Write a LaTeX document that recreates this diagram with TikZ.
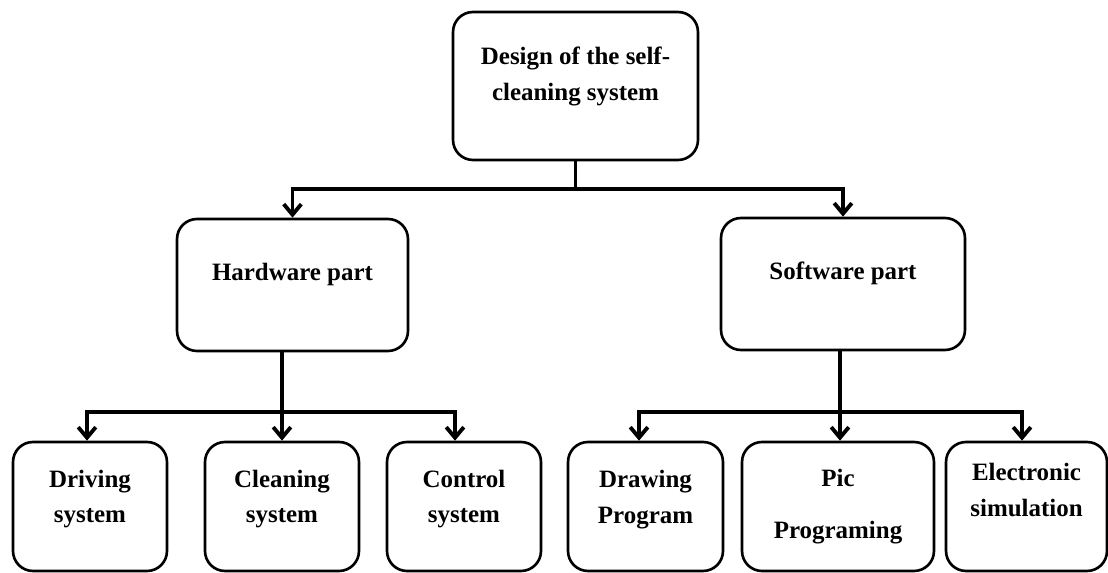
\documentclass[tikz,border=0pt]{standalone}
\usepackage{fontspec}
\setmainfont{Liberation Serif}
\usetikzlibrary{arrows.meta}

\begin{document}
\begin{tikzpicture}[x=0.02cm, y=-0.02cm,
        box/.style={draw, line width=1.5pt, rounded corners=0.4cm, align=center, inner sep=0pt,
            font=\fontsize{14.2}{20}\selectfont\bfseries},
        link/.style={line width=2.2pt, -{Straight Barb[length=6pt,width=10pt]}},
        bar/.style={line width=2.2pt}]
        \useasboundingbox (0,0) rectangle (1108,573);
        % top level
        \node[box, minimum width=4.9cm, minimum height=2.96cm, text depth=14pt] (design) at (575.5,86) {Design of the self-\\cleaning system};
        % second level
        \node[box, minimum width=4.62cm, minimum height=2.64cm, text depth=14.5pt] (hw) at (292.5,285) {Hardware part};
        \node[box, minimum width=4.88cm, minimum height=2.64cm, text depth=15.5pt] (sw) at (843,284) {Software part};
        % third level
        \node[box, minimum width=3.08cm, minimum height=2.58cm, text depth=12pt] (drv) at (90,506.5)   {Driving\\system};
        \node[box, minimum width=3.08cm, minimum height=2.58cm, text depth=12pt] (cln) at (282,506.5)  {Cleaning\\system};
        \node[box, minimum width=3.08cm, minimum height=2.58cm, text depth=12pt] (ctl) at (464,506.5)  {Control\\system};
        \node[box, minimum width=3.1cm,  minimum height=2.58cm, text depth=11pt] (drw) at (645.5,506.5) {Drawing\\Program};
        \node[box, minimum width=3.84cm, minimum height=2.58cm, text depth=3pt]  (pic) at (838,506.5)  {Pic\\[10pt]Programing};
        \node[box, minimum width=3.22cm, minimum height=2.58cm, text depth=19pt] (ele) at (1026.5,506.5) {Electronic\\simulation};
        % branch points
        \coordinate (bus1) at (575.5,189);
        \coordinate (bus2) at (282,412);
        \coordinate (bus3) at (840,412);
        % connectors
        \draw[bar]  (design.south) -- (bus1);
        \draw[link] (bus1) -| (hw.north);
        \draw[link] (bus1) -| (sw.north);
        \draw[link] (cln |- hw.south) -- (cln.north);
        \draw[link] (bus2) -| ([xshift=-0.06cm]drv.north);
        \draw[link] (bus2) -| ([xshift=-0.18cm]ctl.north);
        \draw[link] (bus3 |- sw.south) -- (bus3 |- pic.north);
        \draw[link] (bus3) -| ([xshift=-0.13cm]drw.north);
        \draw[link] (bus3) -| ([xshift=-0.09cm]ele.north);
    \end{tikzpicture}
\end{document}
